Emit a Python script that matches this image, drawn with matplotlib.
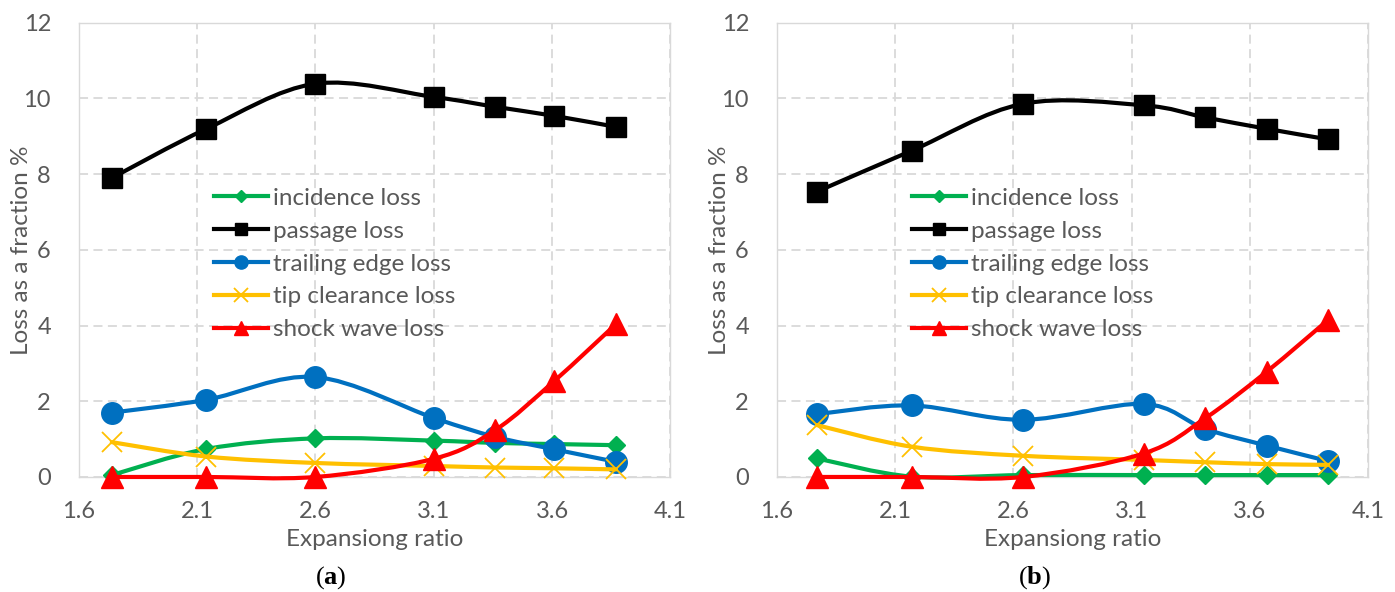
import numpy as np
import matplotlib
matplotlib.use('Agg')
import matplotlib.pyplot as plt
from matplotlib.path import Path
from matplotlib.patches import PathPatch
from matplotlib.lines import Line2D

# Loss breakdown vs expansion ratio, two rotor designs
ratio_a = [1.74, 2.14, 2.60, 3.10, 3.36, 3.61, 3.87]
incidence_a = [0.05, 0.74, 1.02, 0.96, 0.90, 0.87, 0.84]
passage_a = [7.90, 9.20, 10.39, 10.04, 9.78, 9.54, 9.25]
trailing_a = [1.70, 2.04, 2.64, 1.56, 1.06, 0.73, 0.40]
tip_a = [0.92, 0.54, 0.37, 0.29, 0.25, 0.23, 0.20]
shock_a = [0.0, 0.0, 0.0, 0.48, 1.24, 2.54, 4.04]

ratio_b = [1.77, 2.17, 2.64, 3.15, 3.41, 3.67, 3.93]
incidence_b = [0.49, 0.01, 0.05, 0.05, 0.05, 0.05, 0.05]
passage_b = [7.54, 8.62, 9.86, 9.82, 9.50, 9.20, 8.92]
trailing_b = [1.66, 1.89, 1.51, 1.93, 1.27, 0.83, 0.42]
tip_b = [1.37, 0.80, 0.56, 0.45, 0.39, 0.34, 0.32]
shock_b = [0.0, 0.0, 0.0, 0.62, 1.55, 2.78, 4.15]

labels = ['incidence loss', 'passage loss', 'trailing edge loss',
          'tip clearance loss', 'shock wave loss']
colors = ['#00B050', '#000000', '#0070C0', '#FFC000', '#FF0000']
markers = ['D', 's', 'o', 'x', '^']
msizes = [9.5, 15, 15.5, 15, 15.5]
leg_msizes = [6.5, 8.5, 9.5, 9.5, 10]

plt.rcParams['font.family'] = ['Lato', 'DejaVu Sans']
plt.rcParams['mathtext.fontset'] = 'custom'
plt.rcParams['mathtext.rm'] = 'Liberation Serif'
plt.rcParams['mathtext.bf'] = 'Liberation Serif:bold'
txt = '#595959'
grid = '#d9d9d9'


def smooth_path(x, y):
    # Excel style smoothed line: cubic bezier through every point
    pts = np.column_stack([x, y])
    n = len(pts)
    verts = [pts[0]]
    codes = [Path.MOVETO]
    for i in range(n - 1):
        p0 = pts[max(i - 1, 0)]
        p1 = pts[i]
        p2 = pts[i + 1]
        p3 = pts[min(i + 2, n - 1)]
        c1 = p1 + (p2 - p0) / 6.0
        c2 = p2 - (p3 - p1) / 6.0
        verts += [c1, c2, p2]
        codes += [Path.CURVE4] * 3
    return Path(verts, codes)


def marker_kw(k, size):
    if markers[k] == 'x':
        return dict(marker='x', ms=size, mew=1.3)
    return dict(marker=markers[k], ms=size, mec=colors[k])


def draw_panel(ax, xs, series, caption, cap_x):
    for k, ys in enumerate(series):
        z = 3 + 2 * k
        ax.add_patch(PathPatch(smooth_path(xs, ys), fill=False, edgecolor=colors[k],
                               lw=3, capstyle='round', joinstyle='round', zorder=z,
                               clip_on=False))
        ax.plot(xs, ys, ls='none', color=colors[k], zorder=z + 1, clip_on=False,
                **marker_kw(k, msizes[k]))

    ax.set_xlim(1.6, 4.1)
    ax.set_ylim(0, 12)
    ax.set_xticks(np.arange(1.6, 4.11, 0.5))
    ax.set_xticklabels(['1.6', '2.1', '2.6', '3.1', '3.6', '4.1'])
    ax.set_yticks(range(0, 13, 2))
    ax.tick_params(length=0, labelsize=17, colors=txt)
    ax.tick_params(axis='y', pad=20)
    ax.tick_params(axis='x', pad=17)
    ax.grid(True, color=grid, ls=(0, (5, 3)), lw=1.3)
    ax.set_axisbelow(True)
    for s in ax.spines.values():
        s.set_color(grid)
        s.set_linewidth(1.0)
    ax.set_xlabel('Expansiong ratio', fontsize=17.5, color=txt, va='center')
    ax.xaxis.set_label_coords(0.5, -0.1387)
    ax.set_ylabel('Loss as a fraction %', fontsize=17.5, color=txt, va='center')
    ax.yaxis.set_label_coords(-0.096, 0.5)

    handles = [Line2D([], [], color=colors[k], lw=3, **marker_kw(k, leg_msizes[k]))
               for k in range(5)]
    leg = ax.legend(handles, labels, loc='upper left', bbox_to_anchor=(0.228, 0.637),
                    frameon=False, fontsize=17.5, handlelength=2.25, handletextpad=0.2,
                    labelspacing=0.49, borderpad=0, borderaxespad=0)
    for t in leg.get_texts():
        t.set_color(txt)
    leg.set_zorder(20)

    ax.text(cap_x, -0.2224, caption, transform=ax.transAxes, ha='center', va='center',
            fontsize=19, color='black', family='Liberation Serif')


fig = plt.figure(figsize=(13.95, 5.92), dpi=100)
ax1 = fig.add_axes([0.0564, 0.1943, 0.4242, 0.7672])
ax2 = fig.add_axes([0.5568, 0.1943, 0.4241, 0.7672])

draw_panel(ax1, ratio_a, [incidence_a, passage_a, trailing_a, tip_a, shock_a],
           r'($\mathbf{a}$)', 0.426)
draw_panel(ax2, ratio_b, [incidence_b, passage_b, trailing_b, tip_b, shock_b],
           r'($\mathbf{b}$)', 0.436)

plt.savefig('out.png', dpi=100)
